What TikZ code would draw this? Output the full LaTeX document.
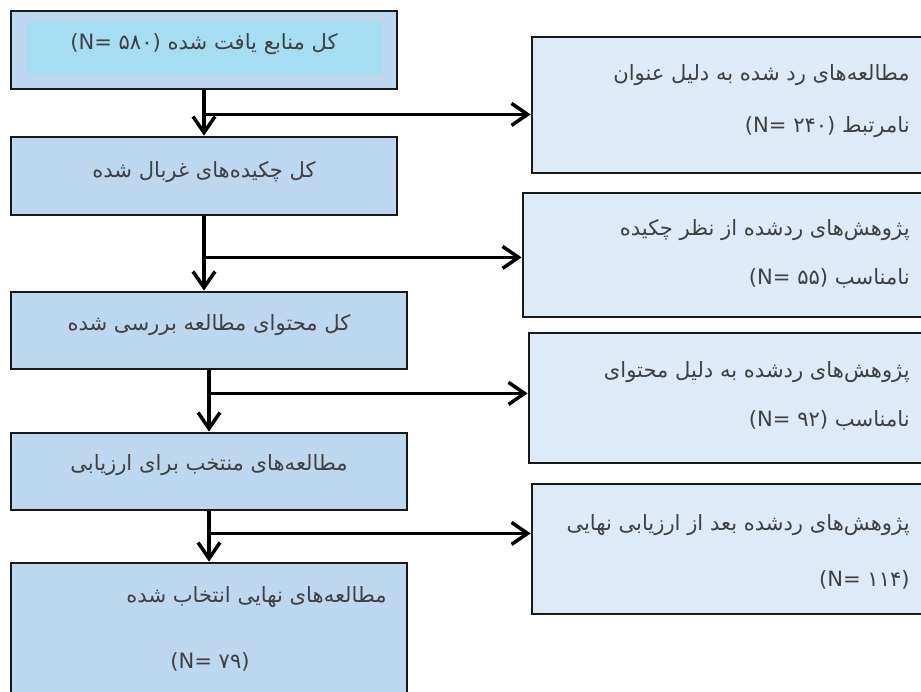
\documentclass[tikz,border=0pt]{standalone}
\usepackage{fontspec}
\usepackage{tikz}
\usetikzlibrary{calc,arrows.meta}
\setmainfont{DejaVu Sans}
\newfontfamily\persianfont[Script=Arabic]{DejaVu Sans}
\newfontfamily\countfont{DejaVu Sans}
\TeXXeTstate=1
\newcommand{\countN}[1]{\beginL{\countfont(N= #1)}\endL}
\definecolor{boxblue}{RGB}{189,215,238}
\definecolor{innerblue}{RGB}{166,221,242}
\definecolor{paleblue}{RGB}{222,234,246}
\definecolor{textgray}{RGB}{64,64,64}
\tikzset{
  stagebox/.style={draw=black!90, line width=1.6pt, fill=boxblue, inner sep=0pt},
  dropbox/.style={draw=black!90, line width=1.6pt, fill=paleblue, inner sep=0pt},
  txt/.style={font=\persianfont\fontsize{12}{14}\selectfont, text=textgray, inner sep=0pt},
  flow/.style={line width=2pt, -{Straight Barb[length=0.32cm, width=0.44cm, line width=2pt]}}
}
\begin{document}
\begin{tikzpicture}[x=0.02cm, y=-0.02cm]
  \clip (0,0) rectangle (921,692);
  \fill[white] (0,0) rectangle (921,692);

  % Draw the main stages
  \node[stagebox, minimum width=7.72cm, minimum height=1.56cm] (b1) at (204,50) {};
  \fill[innerblue] ($(b1.north west)+(17,12)$) rectangle ($(b1.south east)+(-16,-16)$);
  \node[stagebox, minimum width=7.72cm, minimum height=1.56cm] (b2) at (204,176) {};
  \node[stagebox, minimum width=7.92cm, minimum height=1.54cm] (b3) at (209,330.5) {};
  \node[stagebox, minimum width=7.92cm, minimum height=1.54cm] (b4) at (209,471.5) {};
  \node[stagebox, minimum width=7.92cm, minimum height=3.2cm] (b5) at (209,643) {};

  % Draw the excluded boxes
  \node[dropbox, minimum width=7.96cm, minimum height=2.72cm] (r1) at (731,105) {};
  \node[dropbox, minimum width=8.14cm, minimum height=2.48cm] (r2) at (726.5,255) {};
  \node[dropbox, minimum width=8.02cm, minimum height=2.6cm] (r3) at (729.5,398) {};
  \node[dropbox, minimum width=7.96cm, minimum height=2.6cm] (r4) at (731,549) {};

  % Texts of the stages
  \node[txt] (t1) at ($(b1.center)+(0,-6)$) {\countN{۵۸۰} \beginR کل منابع یافت شده\endR};
  \node[txt] (t2) at ($(b2.center)+(0,-4)$) {\beginR کل چکیده‌های غربال شده\endR};
  \node[txt] (t3) at ($(b3.center)+(0,-5)$) {\beginR کل محتوای مطالعه بررسی شده\endR};
  \node[txt] (t4) at ($(b4.center)+(0,-6)$) {\beginR مطالعه‌های منتخب برای ارزیابی\endR};
  \node[txt, anchor=east] (t5a) at (387,597) {\beginR مطالعه‌های نهایی انتخاب شده\endR};
  \node[txt] (t5b) at (210,662) {\countN{۷۹}};

  % Texts of the excluded boxes
  \node[txt, anchor=east] (r1a) at (910,75) {\beginR مطالعه‌های رد شده به دلیل عنوان\endR};
  \node[txt, anchor=east] (r1b) at (910,127) {\countN{۲۴۰} \beginR نامرتبط\endR};
  \node[txt, anchor=east] (r2a) at (910,230) {\beginR پژوهش‌های ردشده از نظر چکیده\endR};
  \node[txt, anchor=east] (r2b) at (910,278) {\countN{۵۵} \beginR نامناسب\endR};
  \node[txt, anchor=east] (r3a) at (910,372) {\beginR پژوهش‌های ردشده به دلیل محتوای\endR};
  \node[txt, anchor=east] (r3b) at (910,420) {\countN{۹۲} \beginR نامناسب\endR};
  \node[txt, anchor=east] (r4a) at (910,525) {\beginR پژوهش‌های ردشده بعد از ارزیابی نهایی\endR};
  \node[txt, anchor=east] (r4b) at (910,580) {\countN{۱۱۴}};

  % Draw the main flow
  \draw[flow] (b1.south) -- (b1.south |- b2.north);
  \draw[flow] (b2.south) -- (b2.south |- b3.north);
  \draw[flow] (b3.south) -- (b3.south |- b4.north);
  \draw[flow] (b4.south) -- (b4.south |- b5.north);

  % Draw the branches
  \coordinate (j1) at ($(b1.south)+(0,24)$);
  \coordinate (j2) at ($(b2.south)+(0,41)$);
  \coordinate (j3) at ($(b3.south)+(0,23)$);
  \coordinate (j4) at ($(b4.south)+(0,22)$);
  \draw[flow] (j1) -- (j1 -| r1.west);
  \draw[flow] (j2) -- (j2 -| r2.west);
  \draw[flow] (j3) -- (j3 -| r3.west);
  \draw[flow] (j4) -- (j4 -| r4.west);
\end{tikzpicture}
\end{document}
